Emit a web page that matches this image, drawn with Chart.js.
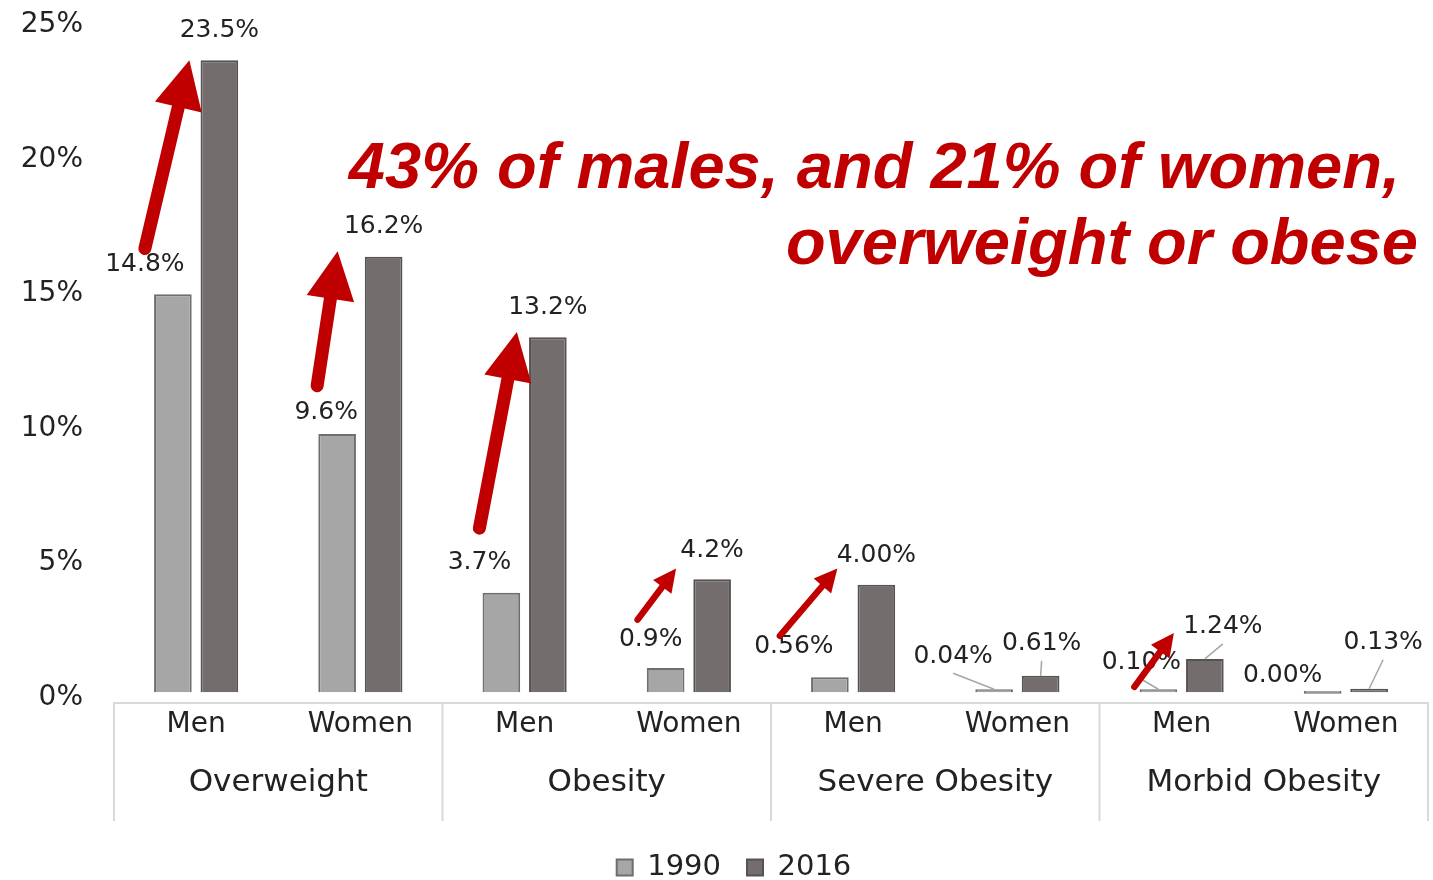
<!DOCTYPE html>
<html>
<head>
<meta charset="utf-8">
<script src="https://cdn.jsdelivr.net/npm/chart.js@4.4.1/dist/chart.umd.min.js"></script>
<style>
  html, body { margin: 0; padding: 0; background: #fff; }
  #wrap { width: 1433px; height: 880px; }
</style>
</head>
<body>
<div id="wrap"><canvas id="chart"></canvas></div>
<script>
const sexes = ['Men', 'Women', 'Men', 'Women', 'Men', 'Women', 'Men', 'Women']
const groups = ['Overweight', 'Obesity', 'Severe Obesity', 'Morbid Obesity']
const years = ['1990', '2016']
const values1990 = [14.8, 9.6, 3.7, 0.9, 0.56, 0.04, 0.10, 0.00]
const values2016 = [23.5, 16.2, 13.2, 4.2, 4.00, 0.61, 1.24, 0.13]
const labels1990 = ['14.8%', '9.6%', '3.7%', '0.9%', '0.56%', '0.04%', '0.10%', '0.00%']
const labels2016 = ['23.5%', '16.2%', '13.2%', '4.2%', '4.00%', '0.61%', '1.24%', '0.13%']
const yTicks = [0, 5, 10, 15, 20, 25]
const headline = ['43% of males, and 21% of women,', 'overweight or obese']

// red arrows: which category, value at the tail and at the tip
const arrowCats = [0, 1, 2, 3, 4, 6]
const arrowFrom = [16.5, 11.4, 6.1, 2.7, 2.1, 0.2]
const arrowTo = [23.5, 16.4, 13.4, 4.6, 4.6, 2.2]

// layout tweaks (px), kept apart from the data
const nudge1990 = [[-28, 30], [-11, 22], [-22, 30], [-15, 29], [-36, 31], [-41, 33], [-17, 27], [-40, 18]]
const nudge2016 = [[0, 30], [0, 30], [0, 30], [0, 29], [0, 29], [1, 32], [18, 32], [14, 46]]
const leaders = [[0, 5], [1, 5], [0, 6], [1, 6], [1, 7]]
const arrowTailDx = [-28, -20, -22, -28, -50, -24]
const arrowTipDx = [-30, -46, -31, -36, -39, -31]
const arrowBig = [true, true, true, false, false, false]

const RED = '#c00000'
const TEXT = '#222222'
const FONT = 'DejaVu Sans'

function drawArrow(ctx, x0, y0, x1, y1, w, headW, headL) {
	const len = Math.hypot(x1 - x0, y1 - y0)
	const ux = (x1 - x0) / len, uy = (y1 - y0) / len
	const bx = x1 - ux * headL, by = y1 - uy * headL
	ctx.beginPath()
	ctx.moveTo(x0, y0)
	ctx.lineTo(bx + ux * 2, by + uy * 2)
	ctx.lineWidth = w
	ctx.lineCap = 'round'
	ctx.stroke()
	ctx.beginPath()
	ctx.moveTo(x1, y1)
	ctx.lineTo(bx - uy * headW / 2, by + ux * headW / 2)
	ctx.lineTo(bx + uy * headW / 2, by - ux * headW / 2)
	ctx.closePath()
	ctx.fill()
}

const annotations = {
	id: 'annotations',
	afterLayout(chart) {
		// legend sits a little right of the canvas centre in the original
		chart.legend.left += 20
		chart.legend.right += 20
	},
	afterDatasetsDraw(chart) {
		const ctx = chart.ctx
		const yScale = chart.scales.y
		const metas = [chart.getDatasetMeta(0), chart.getDatasetMeta(1)]
		const texts = [labels1990, labels2016]
		const nudges = [nudge1990, nudge2016]
		ctx.save()

		// leader lines
		ctx.strokeStyle = '#a6a6a6'
		ctx.lineWidth = 1.5
		for (const [d, i] of leaders) {
			const bar = metas[d].data[i]
			const lx = bar.x + nudges[d][i][0], ly = bar.y - nudges[d][i][1]
			ctx.beginPath()
			ctx.moveTo(lx, ly + 17)
			ctx.lineTo(bar.x, bar.y)
			ctx.stroke()
		}

		// value labels
		ctx.font = '25px "' + FONT + '"'
		ctx.fillStyle = TEXT
		ctx.textAlign = 'center'
		ctx.textBaseline = 'middle'
		metas.forEach((meta, d) => {
			meta.data.forEach((bar, i) => {
				ctx.fillText(texts[d][i], bar.x + nudges[d][i][0], bar.y - nudges[d][i][1])
			})
		})

		// arrows
		ctx.fillStyle = RED
		ctx.strokeStyle = RED
		arrowCats.forEach((c, k) => {
			const x0 = metas[0].data[c].x + arrowTailDx[k]
			const y0 = yScale.getPixelForValue(arrowFrom[k])
			const x1 = metas[1].data[c].x + arrowTipDx[k]
			const y1 = yScale.getPixelForValue(arrowTo[k])
			if (arrowBig[k]) drawArrow(ctx, x0, y0, x1, y1, 13, 48, 48)
			else drawArrow(ctx, x0, y0, x1, y1, 6.5, 23, 23)
		})
		ctx.restore()
	},
	afterDraw(chart) {
		const ctx = chart.ctx
		const area = chart.chartArea
		const x = chart.scales.x
		ctx.save()

		// group separators under the axis
		ctx.strokeStyle = '#d9d9d9'
		ctx.lineWidth = 2
		const bounds = [area.left]
		for (let i = 2; i < sexes.length; i += 2) {
			bounds.push((x.getPixelForValue(i - 1) + x.getPixelForValue(i)) / 2)
		}
		bounds.push(area.right)
		for (const bx of bounds) {
			ctx.beginPath()
			ctx.moveTo(bx, area.bottom)
			ctx.lineTo(bx, area.bottom + 118)
			ctx.stroke()
		}

		// headline
		ctx.font = 'italic bold 65px "Liberation Sans"'
		ctx.fillStyle = RED
		ctx.textAlign = 'right'
		ctx.textBaseline = 'alphabetic'
		ctx.fillText(headline[0], 1400, 188)
		ctx.fillText(headline[1], 1418, 264)
		ctx.restore()
	}
}

new Chart(document.getElementById('chart'), {
	type: 'bar',
	data: {
		labels: sexes,
		datasets: [
			{
				label: years[0],
				data: values1990,
				backgroundColor: '#a6a6a6',
				borderColor: '#6e6e6e',
				borderWidth: 2
			},
			{
				label: years[1],
				data: values2016,
				backgroundColor: '#736d6d',
				borderColor: '#575252',
				borderWidth: 2
			}
		]
	},
	options: {
		responsive: true,
		maintainAspectRatio: false,
		animation: false,
		categoryPercentage: 0.566,
		barPercentage: 0.81,
		minBarLength: 3,
		layout: { padding: { top: 20, right: 5, left: 0, bottom: -12 } },
		plugins: {
			tooltip: { enabled: false },
			legend: {
				position: 'bottom',
				labels: {
					font: { family: FONT, size: 29 },
					color: TEXT,
					boxWidth: 16,
					boxHeight: 16,
					padding: 26
				}
			}
		},
		scales: {
			x: {
				grid: { display: false },
				border: { color: '#d9d9d9', width: 2 },
				ticks: { font: { family: FONT, size: 28, lineHeight: 1 }, color: TEXT, padding: 0 },
				afterFit: s => { s.height = 50 }
			},
			y: {
				min: -0.4,
				max: 25,
				afterBuildTicks: s => { s.ticks = yTicks.map(v => ({ value: v })) },
				grid: { display: false, drawTicks: true, tickLength: 31 },
				border: { display: false },
				ticks: {
					font: { family: FONT, size: 28 },
					color: TEXT,
					padding: 0,
					labelOffset: 5,
					callback: v => v + '%'
				},
				afterFit: s => { s.width = 114 }
			},
			x2: {
				type: 'category',
				labels: groups,
				position: 'bottom',
				offset: true,
				grid: { display: false },
				border: { display: false },
				ticks: { font: { family: FONT, size: 31 }, color: TEXT, padding: 3 },
				afterFit: s => { s.height = 74 }
			}
		}
	},
	plugins: [annotations]
})
</script>
</body>
</html>
